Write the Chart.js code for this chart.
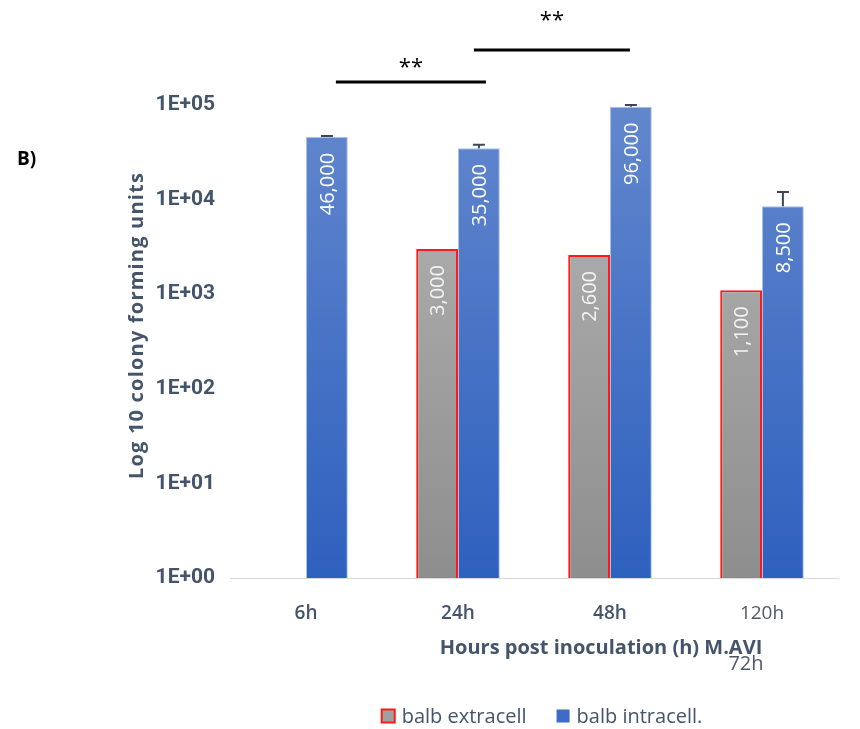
<!DOCTYPE html>
<html>
<head>
<meta charset="utf-8">
<script src="https://cdn.jsdelivr.net/npm/chart.js@4.4.1/dist/chart.umd.min.js"></script>
<style>
  html, body { margin: 0; padding: 0; background: #ffffff; }
  #wrap { width: 860px; height: 729px; position: relative; }
</style>
</head>
<body>
<div id="wrap"><canvas id="cfu"></canvas></div>
<script>
// Time points after inoculation
const categories = ['6h', '24h', '48h', '120h'];
// Colony forming units per time point
const extracell = [null, 3000, 2600, 1100];
const intracell = [46000, 35000, 96000, 8500];
// Upper error on the intracellular counts
const intracellError = [1000, 3000, 4000, 3500];
// Log-axis tick values
const yTicks = [1, 10, 100, 1000, 10000, 100000];
const seriesNames = ['balb extracell', 'balb intracell.'];

const AXIS_TEXT = '#44546a';
const FONT = "'Open Sans', 'Noto Sans', sans-serif";

const GRAY_TOP = '#b5b5b5', GRAY_BOTTOM = '#8e8e8e';
const BLUE_TOP = '#6287cd', BLUE_BOTTOM = '#2e60be';

function vGradient(ctx, top, bottom) {
  const chart = ctx.chart;
  const area = chart.chartArea;
  if (!area) return top;
  const g = chart.ctx.createLinearGradient(0, area.top, 0, area.bottom);
  g.addColorStop(0, top);
  g.addColorStop(1, bottom);
  return g;
}

const fmt = v => v.toLocaleString('en-US');

// Error whiskers and rotated value labels inside the bars
const barExtras = {
  id: 'barExtras',
  afterDatasetsDraw(chart) {
    const ctx = chart.ctx;
    const yScale = chart.scales.y;
    const metaIn = chart.getDatasetMeta(1);
    ctx.save();
    ctx.strokeStyle = '#3e4756';
    ctx.lineWidth = 2;
    metaIn.data.forEach((bar, i) => {
      const v = intracell[i];
      if (v == null) return;
      const yTop = yScale.getPixelForValue(v + intracellError[i]);
      ctx.beginPath();
      ctx.moveTo(bar.x, bar.y);
      ctx.lineTo(bar.x, yTop);
      ctx.moveTo(bar.x - 6, yTop);
      ctx.lineTo(bar.x + 6, yTop);
      ctx.stroke();
    });
    ctx.restore();

    chart.data.datasets.forEach((ds, di) => {
      const meta = chart.getDatasetMeta(di);
      meta.data.forEach((bar, i) => {
        const v = ds.data[i];
        if (v == null) return;
        ctx.save();
        ctx.translate(bar.x, bar.y + 16);
        ctx.rotate(-Math.PI / 2);
        ctx.textAlign = 'right';
        ctx.textBaseline = 'middle';
        ctx.fillStyle = di === 0 ? '#f4f4f4' : '#ffffff';
        ctx.font = '20px ' + FONT;
        ctx.fillText(fmt(v), 0, 1);
        ctx.restore();
      });
    });
  }
};

// Axis titles, panel letter, legend and significance brackets
const annotations = {
  id: 'annotations',
  afterDraw(chart) {
    const ctx = chart.ctx;
    const area = chart.chartArea;
    const metaIn = chart.getDatasetMeta(1);
    const midX = (area.left + area.right) / 2;

    ctx.save();
    // panel letter
    ctx.fillStyle = '#000000';
    ctx.font = 'bold 19px ' + FONT;
    ctx.textAlign = 'left';
    ctx.textBaseline = 'middle';
    ctx.fillText('B)', 17, 160);

    // y axis title
    ctx.save();
    ctx.translate(137, (area.top + area.bottom) / 2 - 16);
    ctx.rotate(-Math.PI / 2);
    ctx.fillStyle = AXIS_TEXT;
    ctx.font = 'bold 20px ' + FONT;
    ctx.letterSpacing = '1.2px';
    ctx.textAlign = 'center';
    ctx.textBaseline = 'middle';
    ctx.fillText('Log 10 colony forming units', 0, 0);
    ctx.restore();

    // x axis title
    ctx.fillStyle = AXIS_TEXT;
    ctx.font = 'bold 20px ' + FONT;
    ctx.textAlign = 'center';
    ctx.textBaseline = 'middle';
    const xTitleX = midX + 67;
    ctx.fillText('Hours post inoculation (h) M.AVI', xTitleX, area.bottom + 70);
    ctx.fillStyle = '#4f5867';
    ctx.font = '20px ' + FONT;
    ctx.fillText('72h', xTitleX + 145, area.bottom + 86);

    // legend
    ctx.font = '20px ' + FONT;
    ctx.textAlign = 'left';
    const box = 13, gapText = 7, gapItem = 30;
    const widths = seriesNames.map(t => ctx.measureText(t).width);
    const total = box * 2 + gapText * 2 + widths[0] + widths[1] + gapItem;
    let lx = midX + 8 - total / 2;
    const ly = 716;
    seriesNames.forEach((name, i) => {
      if (i === 0) {
        ctx.fillStyle = '#a0a0a0';
        ctx.fillRect(lx, ly - box / 2, box, box);
        ctx.strokeStyle = '#ff1a1a';
        ctx.lineWidth = 2;
        ctx.strokeRect(lx, ly - box / 2, box, box);
      } else {
        ctx.fillStyle = '#3d6bc6';
        ctx.fillRect(lx, ly - box / 2, box, box);
      }
      ctx.fillStyle = AXIS_TEXT;
      ctx.fillText(name, lx + box + gapText, ly + 1);
      lx += box + gapText + widths[i] + gapItem;
    });

    // significance brackets between intracellular bars
    const brackets = [
      { from: 0, to: 1, dx1: 9, dx2: 7, rise: 23, starLift: 17 },
      { from: 1, to: 2, dx1: -5, dx2: -1, rise: 55, starLift: 32 }
    ];
    brackets.forEach(b => {
      const x1 = metaIn.data[b.from].x + b.dx1;
      const x2 = metaIn.data[b.to].x + b.dx2;
      const y = area.top - b.rise;
      ctx.strokeStyle = '#000000';
      ctx.lineWidth = 3;
      ctx.beginPath();
      ctx.moveTo(x1, y);
      ctx.lineTo(x2, y);
      ctx.stroke();
      ctx.fillStyle = '#000000';
      ctx.font = '22px ' + FONT;
      ctx.textAlign = 'center';
      ctx.textBaseline = 'middle';
      ctx.fillText('**', (x1 + x2) / 2, y - b.starLift + 3);
    });
    ctx.restore();
  }
};

new Chart(document.getElementById('cfu'), {
  type: 'bar',
  data: {
    labels: categories,
    datasets: [
      {
        label: seriesNames[0],
        data: extracell,
        backgroundColor: ctx => vGradient(ctx, GRAY_TOP, GRAY_BOTTOM),
        borderColor: '#ff1a1a',
        borderWidth: 2,
        borderSkipped: 'bottom'
      },
      {
        label: seriesNames[1],
        data: intracell,
        backgroundColor: ctx => vGradient(ctx, BLUE_TOP, BLUE_BOTTOM),
        borderColor: '#a9bfe8',
        borderWidth: 1,
        borderSkipped: 'bottom'
      }
    ]
  },
  options: {
    responsive: true,
    maintainAspectRatio: false,
    animation: false,
    categoryPercentage: 0.55,
    barPercentage: 1.0,
    layout: { padding: { top: 105, right: 22, bottom: 0, left: 0 } },
    scales: {
      x: {
        grid: { display: false },
        border: { display: true, color: '#d9d9d9', width: 1 },
        ticks: {
          color: ctx => ctx.index === 3 ? '#4f5867' : AXIS_TEXT,
          font: ctx => ({ family: FONT, size: 19, weight: ctx.index === 3 ? 'normal' : '600' }),
          padding: 16,
          maxRotation: 0
        },
        afterFit: s => { s.height = 151; }
      },
      y: {
        type: 'logarithmic',
        min: 1,
        max: 100000,
        grid: { display: false },
        border: { display: false },
        afterBuildTicks: s => { s.ticks = yTicks.map(v => ({ value: v })); },
        ticks: {
          color: AXIS_TEXT,
          font: { family: "Roboto, 'Open Sans', sans-serif", size: 21, weight: 'bold' },
          padding: 7,
          callback: v => '1E+' + String(Math.round(Math.log10(v))).padStart(2, '0')
        },
        afterFit: s => { s.width = 230; }
      }
    },
    plugins: {
      legend: { display: false },
      tooltip: { enabled: false }
    }
  },
  plugins: [barExtras, annotations]
});
</script>
</body>
</html>
